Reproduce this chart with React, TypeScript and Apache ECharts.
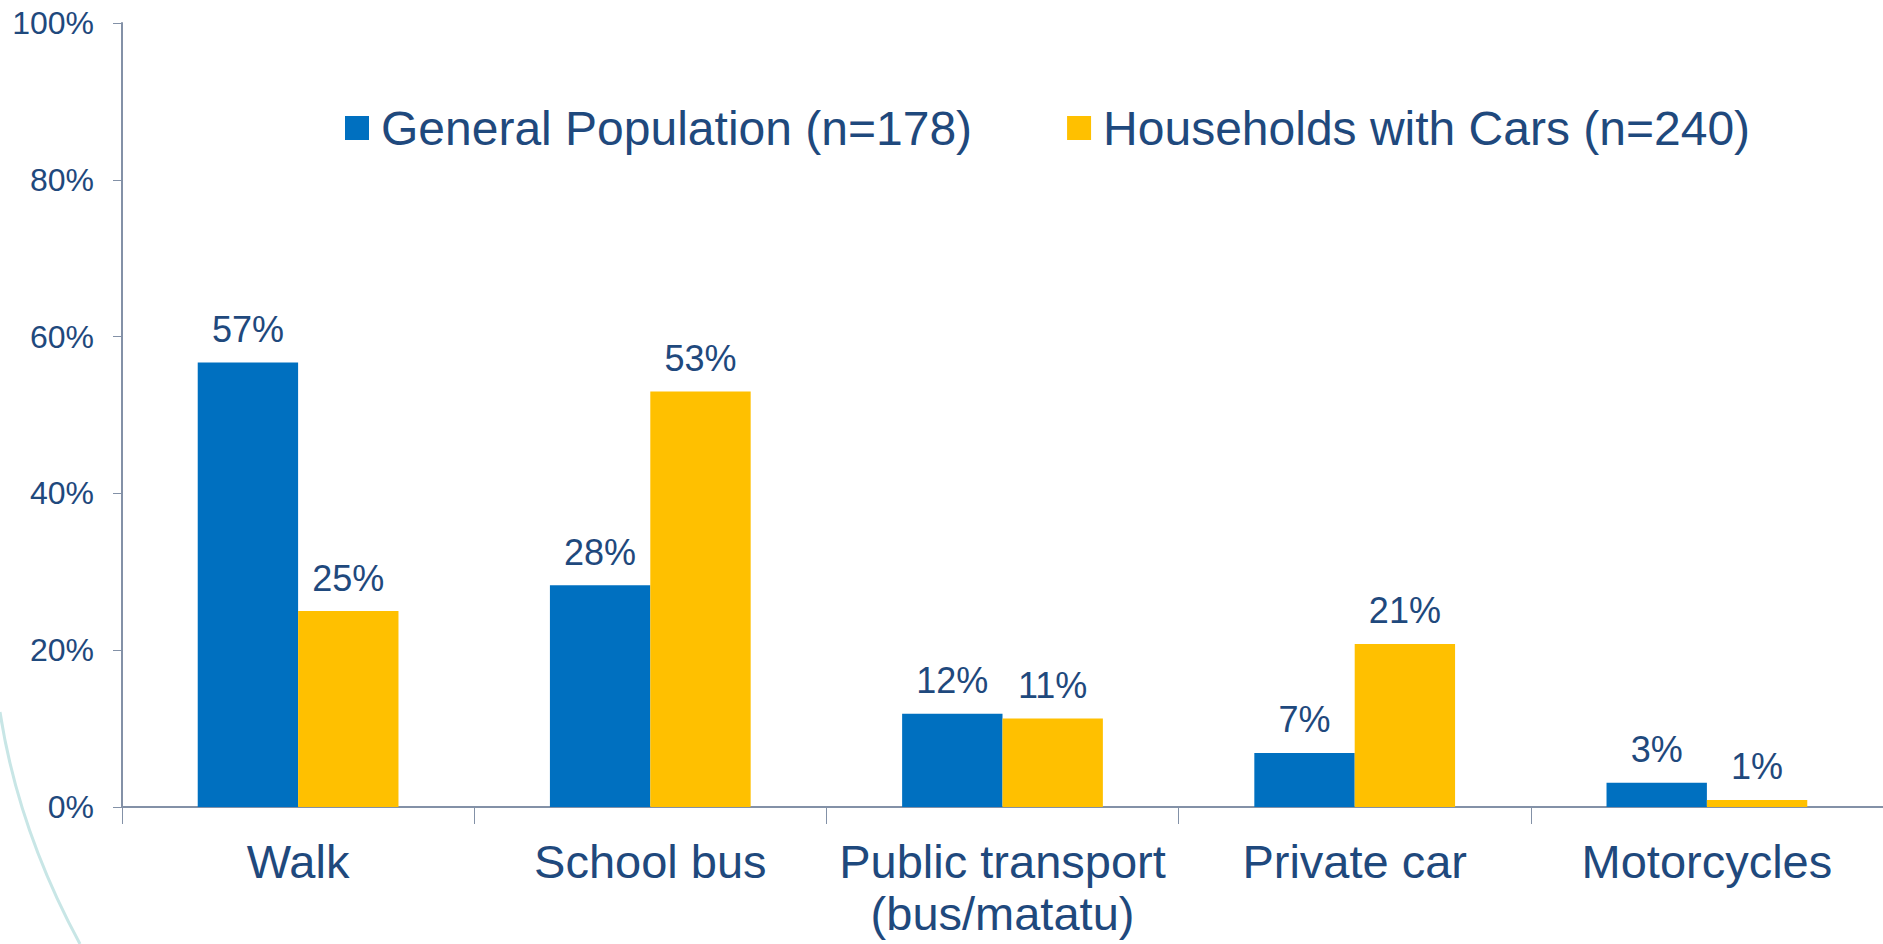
import React, { useEffect, useRef } from "react";
import * as echarts from "echarts";

const categories = ["Walk", "School bus", "Public transport\n(bus/matatu)", "Private car", "Motorcycles"];
const seriesNames = ["General Population (n=178)", "Households with Cars (n=240)"];
const generalPopulation = [56.7, 28.3, 11.9, 6.9, 3.1];
const householdsWithCars = [25.0, 53.0, 11.3, 20.8, 0.9];
const yTicks = [0, 20, 40, 60, 80, 100];

const NAVY = "#1F497D";
const FONT = "'Liberation Sans', Arial, sans-serif";

export default function App() {
  const ref = useRef<HTMLDivElement>(null);
  useEffect(() => {
    document.body.style.margin = "0";
    const chart = echarts.init(ref.current!, undefined, { renderer: "svg" });
    const label = {
      show: true,
      position: "top",
      distance: 15,
      color: NAVY,
      fontSize: 36,
      fontFamily: FONT,
      formatter: (p: any) => Math.round(p.value) + "%",
    };
    chart.setOption({
      animation: false,
      backgroundColor: "#ffffff",
      textStyle: { fontFamily: FONT },
      grid: { left: 122, right: 0, top: 23, bottom: 137, containLabel: false },
      legend: {
        data: seriesNames,
        left: 340,
        top: 99,
        icon: "rect",
        itemWidth: 24,
        itemHeight: 24,
        itemGap: 95,
        textStyle: { color: NAVY, fontSize: 48, fontFamily: FONT, padding: [0, 0, 0, 7] },
      },
      xAxis: {
        type: "category",
        data: categories,
        axisLine: { lineStyle: { color: "#8391A7", width: 2 } },
        axisTick: { show: true, length: 17, lineStyle: { color: "#8391A7", width: 1 } },
        axisLabel: {
          color: NAVY,
          fontSize: 47,
          fontFamily: FONT,
          lineHeight: 52,
          margin: 28,
          interval: 0,
        },
      },
      yAxis: {
        type: "value",
        min: yTicks[0],
        max: yTicks[yTicks.length - 1],
        interval: 20,
        splitLine: { show: false },
        axisLine: { show: true, lineStyle: { color: "#8391A7", width: 2 } },
        axisTick: { show: true, length: 9, lineStyle: { color: "#8391A7", width: 1 } },
        axisLabel: {
          color: NAVY,
          fontSize: 32,
          fontFamily: FONT,
          margin: 28,
          formatter: (v: number) => v + "%",
        },
      },
      series: [
        {
          name: seriesNames[0],
          type: "bar",
          data: generalPopulation,
          barGap: "0%",
          barCategoryGap: "43%",
          itemStyle: { color: "#0070C0" },
          label,
        },
        {
          name: seriesNames[1],
          type: "bar",
          data: householdsWithCars,
          barGap: "0%",
          barCategoryGap: "43%",
          itemStyle: { color: "#FFC000" },
          label,
        },
      ],
      graphic: [
        {
          type: "bezierCurve",
          silent: true,
          z: -1,
          shape: { x1: 0, y1: 712, cpx1: 12, cpy1: 790, cpx2: 40, cpy2: 870, x2: 80, y2: 944 },
          style: { stroke: "#C8E6E6", lineWidth: 3, fill: "none" },
        },
      ],
    });
    return () => chart.dispose();
  }, []);
  return <div ref={ref} style={{ position: "absolute", left: 0, top: 0, width: 1883, height: 944 }} />;
}
